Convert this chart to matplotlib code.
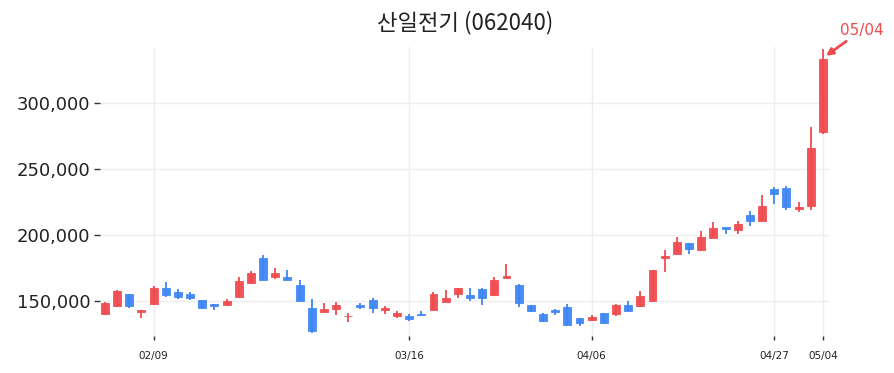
import matplotlib
matplotlib.use("Agg")
import matplotlib.pyplot as plt
from matplotlib.ticker import FuncFormatter

# --- data (KRW) ---
title = "산일전기 (062040)"
tick_idx = [4, 25, 40, 55, 59]
tick_labels = ["02/09", "03/16", "04/06", "04/27", "05/04"]

opens = [140000, 146200, 155300, 141900, 147500, 159600, 156800, 155300, 150800, 147700,
         147000, 153300, 163900, 182400, 168000, 168000, 162100, 144700, 141900, 143700,
         138400, 147000, 150800, 143400, 138600, 138900, 140400, 143400, 149500, 155500,
         154300, 159300, 154600, 167200, 162400, 147000, 140100, 143400, 145700, 137100,
         135600, 140900, 140400, 146700, 146200, 150200, 182800, 185900, 194000, 188900,
         198000, 206100, 204100, 215300, 210700, 235000, 235700, 220000, 222300, 278400]
closes = [148500, 157600, 146200, 143200, 160100, 154600, 153000, 152000, 144900, 146400,
          150000, 165200, 171200, 166200, 171200, 166200, 150200, 127200, 143900, 147000,
          138900, 145500, 144500, 144500, 141100, 136600, 139400, 155300, 152300, 159900,
          152000, 152500, 165900, 169000, 148700, 142700, 135100, 141900, 131800, 133500,
          138100, 133500, 147000, 142700, 153600, 173500, 184400, 194800, 189200, 198300,
          205400, 204800, 208200, 211000, 222100, 231400, 221600, 221300, 266300, 333600]
highs = [149000, 158300, 155300, 143200, 161600, 164600, 158900, 157000, 150800, 147900,
         151500, 168400, 172800, 184900, 175300, 173300, 165700, 151500, 148700, 149500,
         141100, 148700, 152500, 146400, 142600, 140400, 142200, 156600, 158300, 160100,
         159600, 159600, 168400, 177800, 162900, 147300, 141100, 144200, 147700, 137300,
         139400, 141100, 147700, 149800, 157800, 173700, 188700, 198800, 194200, 203100,
         209700, 206300, 210500, 218500, 230200, 236300, 237000, 225300, 281800, 341000]
lows = [139500, 145500, 144700, 137300, 147000, 152800, 151700, 150500, 144500, 143200,
        146600, 153000, 162700, 165700, 166500, 165900, 149800, 125700, 141600, 139400,
        134300, 143900, 140900, 140400, 137300, 134800, 138400, 143100, 149300, 152300,
        149800, 146700, 154200, 166800, 145200, 141400, 134300, 139600, 131000, 130800,
        134600, 132800, 138900, 142400, 145400, 149900, 171800, 185700, 185400, 188700,
        197700, 200800, 200600, 206700, 210500, 223600, 219000, 217300, 219000, 276700]

UP = "#f04b4f"
DOWN = "#3f86f5"

fig = plt.figure(figsize=(8.95, 3.73), dpi=100)
ax = fig.add_axes([100 / 895, 1 - 340 / 373, 729 / 895, 293 / 373])

xs = list(range(len(opens)))
colors = [UP if c >= o else DOWN for o, c in zip(opens, closes)]

# wicks then bodies (tiny bodies get a minimum visible height)
ax.vlines(xs, lows, highs, colors=colors, linewidth=1.3, zorder=2)
min_h = 600
heights = [max(abs(c - o), min_h) for o, c in zip(opens, closes)]
bottoms = [(o + c) / 2 - min_h / 2 if abs(c - o) < min_h else min(o, c)
           for o, c in zip(opens, closes)]
ax.bar(xs, heights, bottom=bottoms, width=0.65, color=colors, alpha=0.95,
       edgecolor=colors, linewidth=0.6, zorder=3)

ax.set_xlim(-0.4, 59.5)
ax.set_ylim(120400, 342700)

ax.set_xticks(tick_idx)
ax.set_xticklabels(tick_labels)
ax.set_yticks([150000, 200000, 250000, 300000])
ax.yaxis.set_major_formatter(FuncFormatter(lambda v, p: f"{int(v):,}"))

ax.grid(True, color="#eeeeee", linewidth=1, zorder=0)
ax.set_axisbelow(True)
for s in ax.spines.values():
    s.set_visible(False)
ax.tick_params(axis="y", labelsize=13, length=4, width=1, color="#333333",
               labelcolor="#222222", pad=3)
ax.tick_params(axis="x", labelsize=7.5, length=3, width=1, color="#333333",
               labelcolor="#222222", pad=8, direction="in")

fig.text(0.52, 0.94, title, ha="center", va="center", fontsize=16,
         family=["Noto Sans CJK KR", "DejaVu Sans"], color="#222222")

ax.annotate("05/04", xy=(59.25, 336000), xytext=(10, 13), textcoords="offset points",
            ha="left", va="bottom", fontsize=11, color=UP, annotation_clip=False,
            arrowprops=dict(arrowstyle="-|>", color=UP, lw=2, mutation_scale=10,
                            shrinkA=1, shrinkB=0))

fig.savefig("out.png", dpi=100)
